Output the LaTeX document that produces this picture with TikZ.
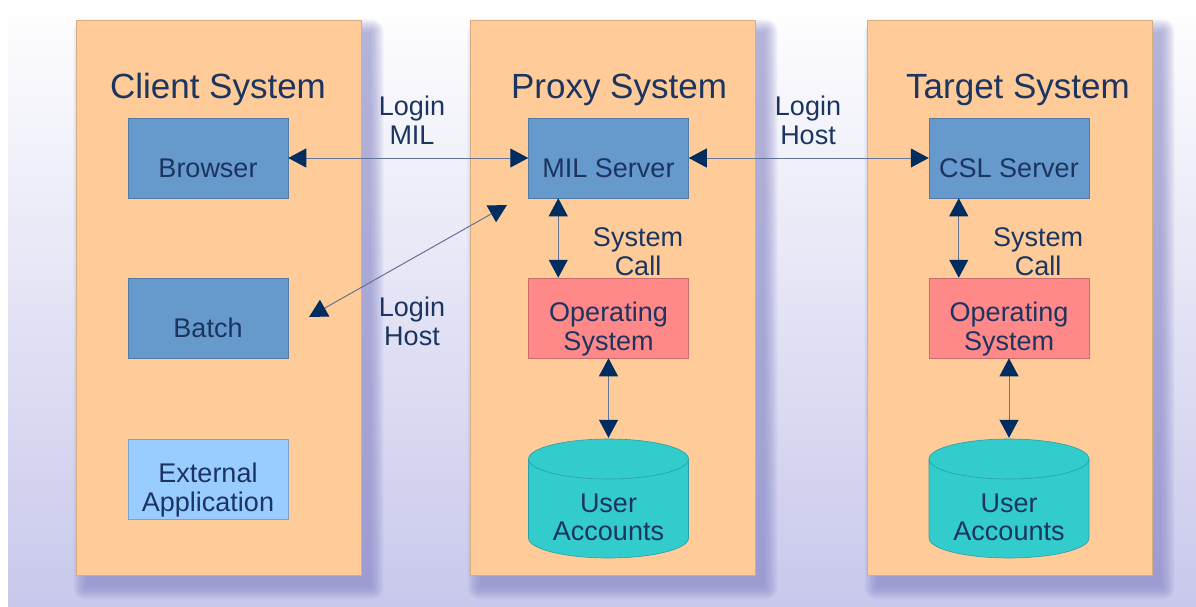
\documentclass[tikz,border=0pt]{standalone}
\usepackage{fontspec}
\setmainfont{Liberation Sans}
\usetikzlibrary{arrows.meta}
\definecolor{peach}{RGB}{255,204,153}
\definecolor{srvblue}{RGB}{102,153,204}
\definecolor{appblue}{RGB}{153,204,255}
\definecolor{ospink}{RGB}{255,136,136}
\definecolor{dbteal}{RGB}{51,204,204}
\definecolor{dbedge}{RGB}{40,160,165}
\definecolor{inkblue}{RGB}{28,52,96}
\definecolor{tipblue}{RGB}{0,45,95}
\definecolor{wiregray}{RGB}{100,115,150}
\definecolor{lavender}{RGB}{200,200,236}
\definecolor{shadowblue}{RGB}{120,120,190}
\pgfdeclarelayer{backdrop}
\pgfdeclarelayer{shadow}
\pgfsetlayers{backdrop,shadow,main}
\begin{document}
\begin{tikzpicture}[x=1pt,y=-1pt,
    every node/.style={text=inkblue},
    sys/.style={draw=peach!85!black, line width=0.6pt, fill=peach,
      minimum width=285pt, minimum height=555pt},
    systitle/.style={anchor=base, font=\fontsize{35}{40}\selectfont},
    unit/.style={draw=#1!80!black, line width=0.5pt, fill=#1,
      minimum width=160pt, minimum height=80pt, inner sep=0pt,
      font=\fontsize{27}{29}\selectfont, align=center},
    oneline/.style={text height=38pt, text depth=0pt},
    twoline/.style={text height=64pt, text depth=0pt},
    db/.style={fill=peach, minimum width=162pt, minimum height=121pt, inner sep=0pt,
      font=\fontsize{27}{28}\selectfont, align=center,
      text height=83pt, text depth=0pt,
      path picture={
        \path[fill=dbteal, draw=dbedge, line width=0.6pt]
          ([xshift=1pt,yshift=-21pt]path picture bounding box.north west)
          -- ([xshift=1pt,yshift=21pt]path picture bounding box.south west)
          arc[start angle=180, end angle=360, x radius=80pt, y radius=20pt]
          -- ([xshift=-1pt,yshift=-21pt]path picture bounding box.north east)
          arc[start angle=0, end angle=180, x radius=80pt, y radius=20pt]
          -- cycle;
        \draw[dbedge, line width=0.6pt]
          ([xshift=1pt,yshift=-21pt]path picture bounding box.north west)
          arc[start angle=180, end angle=360, x radius=80pt, y radius=20pt];
      }},
    note/.style={anchor=base, align=center, font=\fontsize{27}{29}\selectfont},
    link/.style={<->, draw=wiregray, line width=1pt},
    >={Triangle[length=18pt,width=19pt,color=tipblue]}
  ]
    \useasboundingbox (0,0) rectangle (1196,606);
    \begin{pgfonlayer}{backdrop}
      \shade[top color=white, bottom color=lavender] (8,0) rectangle (1196,606);
    \end{pgfonlayer}

    % Systems
    \node[sys] (client) at (218.5,297.5) {};
    \node[sys] (proxy) at (612.5,297.5) {};
    \node[sys] (target) at (1009.5,297.5) {};
    \node[systitle] (clienttitle) at (218,98) {Client System};
    \node[systitle] (proxytitle) at (619,98) {Proxy System};
    \node[systitle] (targettitle) at (1018,98) {Target System};

    % soft shadows behind the systems
    \begin{pgfonlayer}{shadow}
      \foreach \p in {client,proxy,target}
        \foreach \r in {0,2,...,12}
          \fill[shadowblue, opacity=0.1, rounded corners={\r*1pt}]
            ([xshift={(10-\r)*1pt}, yshift={(\r-12)*1pt}]\p.north west)
            rectangle ([xshift={(10+\r)*1pt}, yshift={(-12-\r)*1pt}]\p.south east);
    \end{pgfonlayer}

    % Client side
    \node[unit=srvblue, oneline] (browser) at (208,158) {Browser};
    \node[unit=srvblue, oneline] (batch) at (208,318) {Batch};
    \node[unit=appblue, twoline] (extapp) at (208,479) {External\\Application};

    % Proxy side
    \node[unit=srvblue, oneline] (milsrv) at (608.5,158) {MIL Server};
    \node[unit=ospink, twoline] (proxyos) at (608.5,318) {Operating\\System};
    \node[db] (proxyacc) at (608.5,498.5) {User\\Accounts};

    % Target side
    \node[unit=srvblue, oneline] (cslsrv) at (1009,158) {CSL Server};
    \node[unit=ospink, twoline] (targetos) at (1009,318) {Operating\\System};
    \node[db] (targetacc) at (1009,498.5) {User\\Accounts};

    % Arrows
    \coordinate (batchend) at (309,317);
    \coordinate (milend) at (507,205);
    \draw[link] (browser) -- (milsrv);
    \draw[link] (milsrv) -- (cslsrv);
    \draw[link] (batchend) -- (milend);
    \draw[link] ([xshift=30pt]milsrv.south west) -- ([xshift=30pt]proxyos.north west);
    \draw[link] ([xshift=30pt]cslsrv.south west) -- ([xshift=30pt]targetos.north west);
    \draw[link] (proxyos) -- (proxyacc);
    \draw[link] (targetos) -- (targetacc);

    % Labels
    \node[note] (loginmil) at (412,144) {Login\\MIL};
    \node[note] (loginhost) at (808,144) {Login\\Host};
    \node[note] (batchlogin) at (412,345) {Login\\Host};
    \node[note] (proxycall) at (638,275) {System\\Call};
    \node[note] (targetcall) at (1038,275) {System\\Call};
\end{tikzpicture}
\end{document}
